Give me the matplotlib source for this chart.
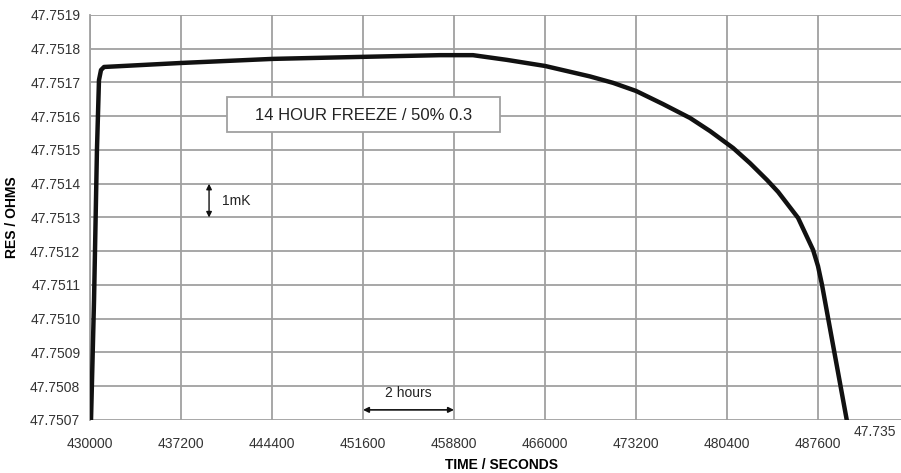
import matplotlib.pyplot as plt
from matplotlib.patches import Rectangle
from matplotlib.transforms import blended_transform_factory

plt.rcParams['font.family'] = ['Liberation Sans', 'DejaVu Sans']

# freeze curve
time_s = [430080, 430320, 430550, 430710, 430870, 431110, 437280, 444480,
          451600, 457690, 460300, 462990, 466000, 469560, 471380, 473200,
          475340, 477470, 479060, 480880, 482220, 483570, 484440, 486020,
          487210, 487600, 487920, 489890]
res_ohms = [47.75070, 47.751056, 47.75150, 47.751707, 47.751737, 47.751746,
            47.751758, 47.751770, 47.751776, 47.751781, 47.751781, 47.751767,
            47.751749, 47.751718, 47.751699, 47.751675, 47.751636, 47.751595,
            47.751556, 47.751506, 47.751461, 47.751411, 47.751376, 47.751299,
            47.751204, 47.751156, 47.751100, 47.750697]

xticks = [430000, 437200, 444400, 451600, 458800, 466000, 473200, 480400, 487600]
yticks = [47.7507 + 0.0001 * i for i in range(13)]

fig = plt.figure(figsize=(9.01, 4.73), dpi=100)
ax = fig.add_axes([90 / 901, 53 / 473, 811 / 901, 405 / 473])

ax.plot(time_s, res_ohms, color='#111111', lw=3.2, solid_joinstyle='round',
        solid_capstyle='butt', zorder=3)

ax.set_xlim(430000, 430000 + 811 / 91 * 7200)
ax.set_ylim(47.7507, 47.7519)
ax.set_xticks(xticks)
ax.set_xticklabels([str(t) for t in xticks])
ax.set_yticks(yticks)
ax.set_yticklabels(['%.4f' % v for v in yticks])
ax.grid(True, color='#a0a0a0', lw=1.3)
ax.set_axisbelow(True)
for s in ['top', 'right', 'bottom']:
    ax.spines[s].set_visible(False)
ax.spines['left'].set_color('#a0a0a0')
ax.spines['left'].set_linewidth(1.3)
ax.tick_params(length=0, colors='#333333', labelsize=10)
ax.tick_params(axis='x', pad=12)
ax.tick_params(axis='y', pad=7)

ax.set_xlabel('TIME / SECONDS', fontsize=10, fontweight='bold')
ax.set_ylabel('RES / OHMS', fontsize=10, fontweight='bold', labelpad=8)
ax.xaxis.set_label_coords(0.508, -0.095)

# label box
ax.add_patch(Rectangle((440840, 47.751553), 21600, 0.000104, fc='white',
                       ec='#a0a0a0', lw=1.3, zorder=4))
ax.text(451640, 47.751603, '14 HOUR FREEZE / 50% 0.3', fontsize=12,
        ha='center', va='center', color='#222222', zorder=5)

# 1mK marker
ax.annotate('', xy=(439420, 47.75130), xytext=(439420, 47.75140),
            arrowprops=dict(arrowstyle='<|-|>', color='#111111', lw=1,
                            mutation_scale=8, shrinkA=0, shrinkB=0))
ax.text(440440, 47.75135, '1mK', fontsize=10, va='center', color='#222222')

# 2 hours marker
ax.annotate('', xy=(451600, 47.75073), xytext=(458800, 47.75073),
            arrowprops=dict(arrowstyle='<|-|>', color='#111111', lw=1.2,
                            mutation_scale=8, shrinkA=0, shrinkB=0))
ax.text(455200, 47.75076, '2 hours', fontsize=10, ha='center', va='bottom',
        color='#222222')

trans = blended_transform_factory(ax.transData, ax.transAxes)
ax.text(490400, -0.03, '47.735', fontsize=10, color='#333333', transform=trans,
        va='center', ha='left')

fig.savefig('out.png', dpi=100)
